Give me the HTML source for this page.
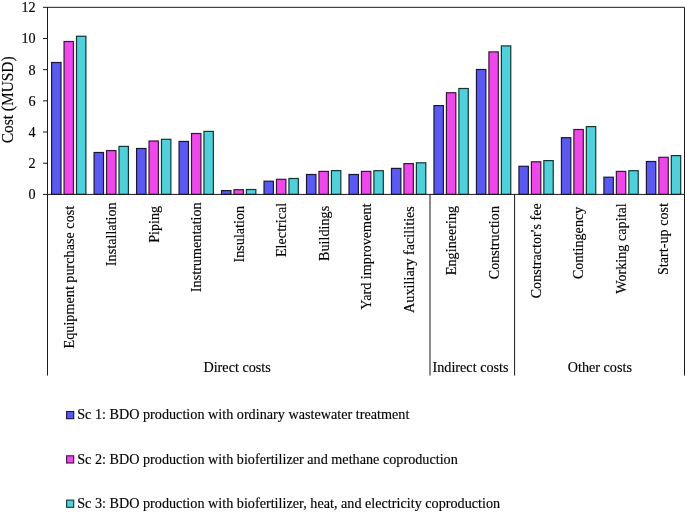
<!DOCTYPE html>
<html><head><meta charset="utf-8"><style>
html,body{margin:0;padding:0;background:#fff;}
body{width:685px;height:512px;overflow:hidden;}
svg{display:block;-webkit-font-smoothing:antialiased;will-change:transform;font-family:"Liberation Serif",serif;fill:#000;}
text{fill:#000;stroke:#000;stroke-width:0.15px;}
</style></head><body>
<svg width="685" height="512" viewBox="0 0 685 512">
<rect x="51.6" y="62.5" width="9.4" height="131.9" fill="#5a5af2" stroke="#17173a" stroke-width="1.2"/>
<rect x="64.05" y="41.5" width="9.4" height="152.9" fill="#ee48ea" stroke="#3a153a" stroke-width="1.2"/>
<rect x="76.5" y="36.25" width="9.4" height="158.15" fill="#50d0da" stroke="#123636" stroke-width="1.2"/>
<rect x="94.09" y="152.5" width="9.4" height="41.9" fill="#5a5af2" stroke="#17173a" stroke-width="1.2"/>
<rect x="106.54" y="150.6" width="9.4" height="43.8" fill="#ee48ea" stroke="#3a153a" stroke-width="1.2"/>
<rect x="118.99" y="146.4" width="9.4" height="48" fill="#50d0da" stroke="#123636" stroke-width="1.2"/>
<rect x="136.57" y="148.5" width="9.4" height="45.9" fill="#5a5af2" stroke="#17173a" stroke-width="1.2"/>
<rect x="149.02" y="141" width="9.4" height="53.4" fill="#ee48ea" stroke="#3a153a" stroke-width="1.2"/>
<rect x="161.47" y="139.3" width="9.4" height="55.1" fill="#50d0da" stroke="#123636" stroke-width="1.2"/>
<rect x="179.06" y="141.45" width="9.4" height="52.95" fill="#5a5af2" stroke="#17173a" stroke-width="1.2"/>
<rect x="191.51" y="133.5" width="9.4" height="60.9" fill="#ee48ea" stroke="#3a153a" stroke-width="1.2"/>
<rect x="203.96" y="131.4" width="9.4" height="63" fill="#50d0da" stroke="#123636" stroke-width="1.2"/>
<rect x="221.54" y="190.6" width="9.4" height="3.8" fill="#5a5af2" stroke="#17173a" stroke-width="1.2"/>
<rect x="233.99" y="189.7" width="9.4" height="4.7" fill="#ee48ea" stroke="#3a153a" stroke-width="1.2"/>
<rect x="246.44" y="189.5" width="9.4" height="4.9" fill="#50d0da" stroke="#123636" stroke-width="1.2"/>
<rect x="264.03" y="181.2" width="9.4" height="13.2" fill="#5a5af2" stroke="#17173a" stroke-width="1.2"/>
<rect x="276.48" y="179.3" width="9.4" height="15.1" fill="#ee48ea" stroke="#3a153a" stroke-width="1.2"/>
<rect x="288.93" y="178.5" width="9.4" height="15.9" fill="#50d0da" stroke="#123636" stroke-width="1.2"/>
<rect x="306.52" y="174.5" width="9.4" height="19.9" fill="#5a5af2" stroke="#17173a" stroke-width="1.2"/>
<rect x="318.97" y="171.4" width="9.4" height="23" fill="#ee48ea" stroke="#3a153a" stroke-width="1.2"/>
<rect x="331.42" y="170.6" width="9.4" height="23.8" fill="#50d0da" stroke="#123636" stroke-width="1.2"/>
<rect x="349" y="174.5" width="9.4" height="19.9" fill="#5a5af2" stroke="#17173a" stroke-width="1.2"/>
<rect x="361.45" y="171.4" width="9.4" height="23" fill="#ee48ea" stroke="#3a153a" stroke-width="1.2"/>
<rect x="373.9" y="170.7" width="9.4" height="23.7" fill="#50d0da" stroke="#123636" stroke-width="1.2"/>
<rect x="391.49" y="168.4" width="9.4" height="26" fill="#5a5af2" stroke="#17173a" stroke-width="1.2"/>
<rect x="403.94" y="163.6" width="9.4" height="30.8" fill="#ee48ea" stroke="#3a153a" stroke-width="1.2"/>
<rect x="416.39" y="162.8" width="9.4" height="31.6" fill="#50d0da" stroke="#123636" stroke-width="1.2"/>
<rect x="433.97" y="105.6" width="9.4" height="88.8" fill="#5a5af2" stroke="#17173a" stroke-width="1.2"/>
<rect x="446.42" y="92.7" width="9.4" height="101.7" fill="#ee48ea" stroke="#3a153a" stroke-width="1.2"/>
<rect x="458.87" y="88.5" width="9.4" height="105.9" fill="#50d0da" stroke="#123636" stroke-width="1.2"/>
<rect x="476.46" y="69.5" width="9.4" height="124.9" fill="#5a5af2" stroke="#17173a" stroke-width="1.2"/>
<rect x="488.91" y="51.9" width="9.4" height="142.5" fill="#ee48ea" stroke="#3a153a" stroke-width="1.2"/>
<rect x="501.36" y="45.9" width="9.4" height="148.5" fill="#50d0da" stroke="#123636" stroke-width="1.2"/>
<rect x="518.95" y="166.3" width="9.4" height="28.1" fill="#5a5af2" stroke="#17173a" stroke-width="1.2"/>
<rect x="531.4" y="161.8" width="9.4" height="32.6" fill="#ee48ea" stroke="#3a153a" stroke-width="1.2"/>
<rect x="543.85" y="160.6" width="9.4" height="33.8" fill="#50d0da" stroke="#123636" stroke-width="1.2"/>
<rect x="561.43" y="137.7" width="9.4" height="56.7" fill="#5a5af2" stroke="#17173a" stroke-width="1.2"/>
<rect x="573.88" y="129.5" width="9.4" height="64.9" fill="#ee48ea" stroke="#3a153a" stroke-width="1.2"/>
<rect x="586.33" y="126.6" width="9.4" height="67.8" fill="#50d0da" stroke="#123636" stroke-width="1.2"/>
<rect x="603.92" y="177.2" width="9.4" height="17.2" fill="#5a5af2" stroke="#17173a" stroke-width="1.2"/>
<rect x="616.37" y="171.4" width="9.4" height="23" fill="#ee48ea" stroke="#3a153a" stroke-width="1.2"/>
<rect x="628.82" y="170.7" width="9.4" height="23.7" fill="#50d0da" stroke="#123636" stroke-width="1.2"/>
<rect x="646.4" y="161.5" width="9.4" height="32.9" fill="#5a5af2" stroke="#17173a" stroke-width="1.2"/>
<rect x="658.85" y="157.3" width="9.4" height="37.1" fill="#ee48ea" stroke="#3a153a" stroke-width="1.2"/>
<rect x="671.3" y="155.6" width="9.4" height="38.8" fill="#50d0da" stroke="#123636" stroke-width="1.2"/>
<path d="M47.5 7.32H684.5V194.4" fill="none" stroke="#1a1a1a" stroke-width="1"/>
<path d="M47.5 7V375.5" fill="none" stroke="#1a1a1a" stroke-width="1"/>
<path d="M47 194.4H685" fill="none" stroke="#1a1a1a" stroke-width="1"/>
<path d="M430 194.4V375.5" fill="none" stroke="#1a1a1a" stroke-width="1"/>
<path d="M514.6 194.4V375.5" fill="none" stroke="#1a1a1a" stroke-width="1"/>
<path d="M684.5 194.4V375.5" fill="none" stroke="#1a1a1a" stroke-width="1"/>
<path d="M43 194.4H47.5" stroke="#1a1a1a" stroke-width="1"/>
<text transform="translate(35.6 199.3) scale(1 0.96)" text-anchor="end" font-size="14.2">0</text>
<path d="M43 163.22H47.5" stroke="#1a1a1a" stroke-width="1"/>
<text transform="translate(35.6 168.12) scale(1 0.96)" text-anchor="end" font-size="14.2">2</text>
<path d="M43 132.04H47.5" stroke="#1a1a1a" stroke-width="1"/>
<text transform="translate(35.6 136.94) scale(1 0.96)" text-anchor="end" font-size="14.2">4</text>
<path d="M43 100.86H47.5" stroke="#1a1a1a" stroke-width="1"/>
<text transform="translate(35.6 105.76) scale(1 0.96)" text-anchor="end" font-size="14.2">6</text>
<path d="M43 69.68H47.5" stroke="#1a1a1a" stroke-width="1"/>
<text transform="translate(35.6 74.58) scale(1 0.96)" text-anchor="end" font-size="14.2">8</text>
<path d="M43 38.5H47.5" stroke="#1a1a1a" stroke-width="1"/>
<text transform="translate(35.6 43.4) scale(1 0.96)" text-anchor="end" font-size="14.2">10</text>
<path d="M43 7.32H47.5" stroke="#1a1a1a" stroke-width="1"/>
<text transform="translate(35.6 12.22) scale(1 0.96)" text-anchor="end" font-size="14.2">12</text>
<text transform="translate(12.9 99.8) rotate(-90) scale(1 1.04)" text-anchor="middle" font-size="15.4">Cost (MUSD)</text>
<text transform="translate(73.64 205.8) rotate(-90) scale(1 0.98)" text-anchor="end" font-size="14.2">Equipment purchase cost</text>
<text transform="translate(116.13 202.3) rotate(-90) scale(1 0.98)" text-anchor="end" font-size="14.2">Installation</text>
<text transform="translate(158.61 205.8) rotate(-90) scale(1 0.98)" text-anchor="end" font-size="14.2">Piping</text>
<text transform="translate(201.1 202.3) rotate(-90) scale(1 0.98)" text-anchor="end" font-size="14.2">Instrumentation</text>
<text transform="translate(243.59 205.8) rotate(-90) scale(1 0.98)" text-anchor="end" font-size="14.2">Insulation</text>
<text transform="translate(286.07 202.7) rotate(-90) scale(1 0.98)" text-anchor="end" font-size="14.2">Electrical</text>
<text transform="translate(328.56 205.8) rotate(-90) scale(1 0.98)" text-anchor="end" font-size="14.2">Buildings</text>
<text transform="translate(371.04 203.5) rotate(-90) scale(1 0.98)" text-anchor="end" font-size="14.2">Yard improvement</text>
<text transform="translate(413.53 206.1) rotate(-90) scale(1 0.98)" text-anchor="end" font-size="14.2">Auxiliary facilities</text>
<text transform="translate(456.02 205.8) rotate(-90) scale(1 0.98)" text-anchor="end" font-size="14.2">Engineering</text>
<text transform="translate(498.5 206) rotate(-90) scale(1 0.98)" text-anchor="end" font-size="14.2">Construction</text>
<text transform="translate(540.99 203.2) rotate(-90) scale(1 0.98)" text-anchor="end" font-size="14.2">Constractor's fee</text>
<text transform="translate(583.47 206.6) rotate(-90) scale(1 0.98)" text-anchor="end" font-size="14.2">Contingency</text>
<text transform="translate(625.96 203.2) rotate(-90) scale(1 0.98)" text-anchor="end" font-size="14.2">Working capital</text>
<text transform="translate(668.45 203) rotate(-90) scale(1 0.98)" text-anchor="end" font-size="14.2">Start-up cost</text>
<text transform="translate(237.1 371.9) scale(1 0.96)" text-anchor="middle" font-size="14.2">Direct costs</text>
<text transform="translate(470.5 371.9) scale(1 0.96)" text-anchor="middle" font-size="14.2">Indirect costs</text>
<text transform="translate(599.8 371.9) scale(1 0.96)" text-anchor="middle" font-size="14.2">Other costs</text>
<rect x="66.6" y="411.5" width="7.1" height="7.2" fill="#5a5af2" stroke="#17173a" stroke-width="1.1"/>
<text transform="translate(77.2 419.4) scale(1 0.96)" font-size="14.2">Sc 1: BDO production with ordinary wastewater treatment</text>
<rect x="66.6" y="455.8" width="7.1" height="7.2" fill="#ee48ea" stroke="#3a153a" stroke-width="1.1"/>
<text transform="translate(77.2 463.7) scale(1 0.96)" font-size="14.2">Sc 2: BDO production with biofertilizer and methane coproduction</text>
<rect x="66.6" y="500.1" width="7.1" height="7.2" fill="#50d0da" stroke="#123636" stroke-width="1.1"/>
<text transform="translate(77.2 508) scale(1 0.96)" font-size="14.2">Sc 3: BDO production with biofertilizer, heat, and electricity coproduction</text>
</svg>
</body></html>
